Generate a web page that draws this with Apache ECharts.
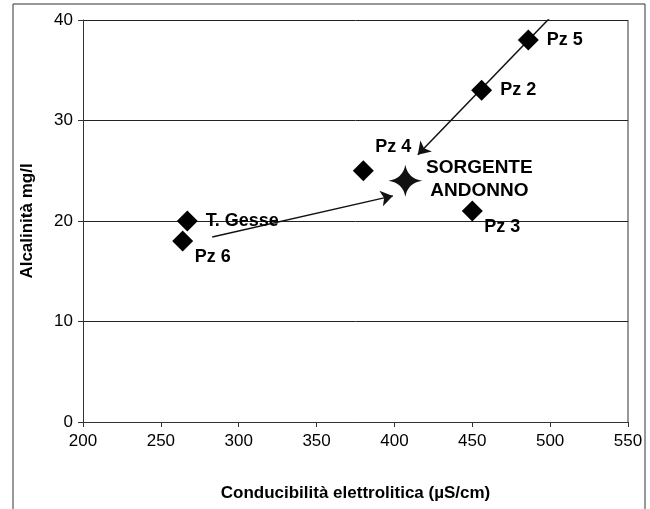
<!DOCTYPE html>
<html>
<head>
<meta charset="utf-8">
<script src="https://cdn.jsdelivr.net/npm/echarts@6/dist/echarts.min.js"></script>
<style>
  html, body { margin: 0; padding: 0; background: #fff; }
  #main { width: 650px; height: 509px; }
</style>
</head>
<body>
<div id="main"></div>
<script>
// punti campionati
const pointNames = ['T. Gesse', 'Pz 6', 'Pz 4', 'Pz 3', 'Pz 2', 'Pz 5'];
const conducibilita = [267, 264, 380, 450, 456, 486];
const alcalinita = [20, 18, 25, 21, 33, 38];
const labelPos = ['right', 'below', 'above', 'below', 'right', 'right'];

// sorgente
const sourceName = 'SORGENTE\nANDONNO';
const sourcePoint = [407, 24];

// frecce (inizio -> fine)
const arrow1 = [[501, 40.4], [415, 26.6]];
const arrow2 = [[283, 18.4], [399, 22.5]];

const xTicks = [200, 250, 300, 350, 400, 450, 500, 550];
const yTicks = [0, 10, 20, 30, 40];

const font = 'Liberation Sans, Arial, sans-serif';

const offsets = {
  right: { position: 'right', distance: 8, offset: [0, 0] },
  below: { position: 'inside', offset: [30, 16] },
  above: { position: 'inside', offset: [30, -24] }
};

const pointData = pointNames.map((n, i) => {
  const o = offsets[labelPos[i]];
  return {
    name: n,
    value: [conducibilita[i], alcalinita[i]],
    label: { position: o.position, distance: o.distance || 5, offset: o.offset }
  };
});

const chart = echarts.init(document.getElementById('main'));
chart.setOption({
  animation: false,
  backgroundColor: '#fff',
  graphic: [{
    type: 'rect',
    shape: { x: 13, y: 4, width: 632, height: 520 },
    style: { fill: 'none', stroke: '#333', lineWidth: 1 },
    z: 0
  }, {
    type: 'line',
    shape: { x1: 628, y1: 20, x2: 628, y2: 422 },
    style: { stroke: '#333', lineWidth: 1 }
  }],
  grid: { left: 83, right: 22, top: 20, bottom: 87 },
  xAxis: {
    type: 'value',
    min: xTicks[0], max: xTicks[xTicks.length - 1], interval: 50,
    name: 'Conducibilità elettrolitica (µS/cm)',
    nameLocation: 'middle', nameGap: 63,
    nameTextStyle: { fontFamily: font, fontWeight: 'bold', fontSize: 17, color: '#000' },
    axisLine: { show: true, lineStyle: { color: '#333', width: 1 } },
    axisTick: { show: true, inside: false, length: 5, lineStyle: { color: '#333' } },
    axisLabel: { fontFamily: font, fontSize: 17, color: '#000', margin: 11 },
    splitLine: { show: false }
  },
  yAxis: {
    type: 'value',
    min: yTicks[0], max: yTicks[yTicks.length - 1], interval: 10,
    name: 'Alcalinità mg/l',
    nameLocation: 'middle', nameGap: 47, nameRotate: 90,
    nameTextStyle: { fontFamily: font, fontWeight: 'bold', fontSize: 17, color: '#000' },
    axisLine: { show: true, lineStyle: { color: '#333', width: 1 } },
    axisTick: { show: true, inside: false, length: 5, lineStyle: { color: '#333' } },
    axisLabel: { fontFamily: font, fontSize: 17, color: '#000', margin: 10 },
    splitLine: { show: true, lineStyle: { color: '#222', width: 1 } }
  },
  series: [{
    type: 'scatter',
    symbol: 'diamond',
    symbolSize: 21,
    itemStyle: { color: '#000', opacity: 1 },
    label: {
      show: true, formatter: '{b}',
      fontFamily: font, fontWeight: 'bold', fontSize: 18, color: '#000'
    },
    data: pointData,
    z: 5
  }, {
    type: 'scatter',
    symbol: 'path://M0,-10 Q1.4,-1.4 10,0 Q1.4,1.4 0,10 Q-1.4,1.4 -10,0 Q-1.4,-1.4 0,-10 Z',
    symbolSize: [34, 32],
    itemStyle: { color: '#111', opacity: 1 },
    label: {
      show: true, formatter: '{b}', position: 'inside', offset: [74, -2],
      align: 'center', lineHeight: 23,
      fontFamily: font, fontWeight: 'bold', fontSize: 19, color: '#000'
    },
    data: [{ name: sourceName, value: sourcePoint }],
    z: 5
  }, {
    type: 'lines',
    coordinateSystem: 'cartesian2d',
    symbol: ['none', 'arrow'],
    symbolSize: 12,
    lineStyle: { color: '#111', width: 1.5, opacity: 1 },
    data: [{ coords: arrow1 }, { coords: arrow2 }],
    z: 4
  }]
});
</script>
</body>
</html>
